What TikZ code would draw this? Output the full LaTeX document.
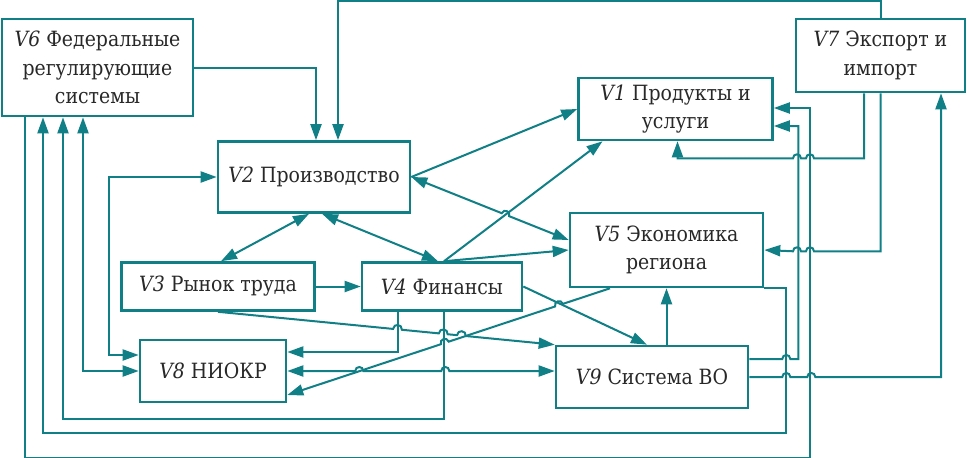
\documentclass[tikz,border=0pt]{standalone}
\usepackage{fontspec}
\setmainfont{DejaVu Serif Condensed}
\usetikzlibrary{arrows.meta,calc}
\definecolor{vline}{RGB}{16,127,134}
\definecolor{vtext}{RGB}{40,40,40}

\begin{document}
\begin{tikzpicture}[x=1pt,y=-1pt,
    box/.style={draw=vline, line width=2.6pt, fill=white, text=vtext, align=center, inner sep=0pt, font=\fontsize{21}{28.5}\selectfont},
    arr/.style={draw=vline, line width=2pt, -{Triangle[length=16pt,width=11pt]}},
    arr2/.style={draw=vline, line width=2pt, {Triangle[length=16pt,width=11pt]}-{Triangle[length=16pt,width=11pt]}},
    hop/.style={bend left=90, looseness=1.7},
    hopr/.style={bend right=90, looseness=1.7}]
  \useasboundingbox (0,0) rectangle (967,458);

  % blocks
  \node[box, minimum width=191pt, minimum height=97pt] (v6) at (97.5,67.5) {\textit{V6} Федеральные\\регулирующие\\системы};
  \node[box, minimum width=192pt, minimum height=71pt] (v2) at (314,177) {\textit{V2} Производство};
  \node[box, minimum width=194pt, minimum height=62pt] (v1) at (675.5,109) {\textit{V1} Продукты и\\услуги};
  \node[box, minimum width=169pt, minimum height=73pt] (v7) at (880.5,55.5) {\textit{V7} Экспорт и\\импорт};
  \node[box, minimum width=193pt, minimum height=74pt] (v5) at (666.5,250) {\textit{V5} Экономика\\региона};
  \node[box, minimum width=193pt, minimum height=48pt] (v3) at (218,286.5) {\textit{V3} Рынок труда};
  \node[box, minimum width=160pt, minimum height=48pt] (v4) at (442,286.5) {\textit{V4} Финансы};
  \node[box, minimum width=146pt, minimum height=62pt] (v8) at (213,371) {\textit{V8} НИОКР};
  \node[box, minimum width=192pt, minimum height=62pt] (v9) at (652,377) {\textit{V9} Система ВО};

  \coordinate (v5a) at ([yshift=10pt]v5.west);
  \coordinate (v4n) at ([xshift=2pt]v4.north);
  \coordinate (v5s) at ([xshift=-56.5pt]v5.south);
  \coordinate (v8r) at ([yshift=-24pt]v8.east);

  % links
  \draw[arr] (v6.east) -| ([xshift=2pt]v2.north);
  \draw[arr] (v7.north) -- ++(0,-17) -| ([xshift=24pt]v2.north);
  \draw[arr] (v2.east) -- (v1.west);
  \draw[arr2] (v2.east) -- ($(v2.east)!0.575!(v5a)$) to[hop] ($(v2.east)!0.621!(v5a)$) -- (v5a);
  \draw[arr] (v4n) -- ([xshift=-73pt]v1.south);
  \draw[arr] (v4n) -- (v5.west);
  \draw[arr2] ([xshift=-5pt]v2.south) -- ([xshift=3pt]v3.north);
  \draw[arr2] ([xshift=8pt]v2.south) -- ([xshift=-4pt]v4.north);
  \draw[arr] (v3.east) -- (v4.west);
  \draw[arr] (v3.south) -- ($(v3.south)!0.520!(v9.north west)$) to[hop] ($(v3.south)!0.546!(v9.north west)$)
    -- ($(v3.south)!0.656!(v9.north west)$) to[hop] ($(v3.south)!0.682!(v9.north west)$)
    -- ($(v3.south)!0.710!(v9.north west)$) to[hop] ($(v3.south)!0.736!(v9.north west)$) -- (v9.north west);
  \draw[arr] (v4.east) -- ([xshift=-5pt]v9.north);
  \draw[arr] ([xshift=-44pt]v4.south) |- ([yshift=19pt]v8.east);
  \draw[arr] ([xshift=2pt]v4.south) -- ++(0,107) -| ([xshift=-34.5pt]v6.south);
  \draw[arr] (v5.south east) -- ++(22,0) -- ++(0,145) -| ([xshift=-54.5pt]v6.south);
  \draw[arr] ([xshift=-72.5pt]v6.south) -- ++(0,341) -- ++(785,0) |- ([yshift=1pt]v1.east);
  \draw[arr] ([yshift=18pt]v9.east) -- ++(33,0) to[hop] ++(8,0) -- ++(8,0) |- ([yshift=-17pt]v1.east);
  \draw[arr] (v9.east) -- ++(33,0) to[hop] ++(8,0) -- ++(17,0) to[hop] ++(8,0) -| ([xshift=60.5pt]v7.south);
  \draw[arr] ([xshift=-16.5pt]v7.south) -- ++(0,65) -- ++(-50,0) to[hopr] ++(-8,0) -- ++(-5,0) to[hopr] ++(-8,0) -| ([xshift=2pt]v1.south);
  \draw[arr] (v7.south) -- ++(0,158) -- ++(-66.5,0) to[hopr] ++(-8,0) -- ++(-5,0) to[hopr] ++(-8,0) -- (v5.east);
  \draw[arr] (v5.south |- v9.north) -- (v5.south);
  \draw[arr2] (v8.east) -- ++(68,0) to[hop] ++(8,0) -- ++(78,0) to[hop] ++(8,0) -- (v9.west |- v8.east);
  \draw[arr2] (v2.west) -- ++(-108,0) |- ([yshift=16pt]v8.west);
  \draw[arr2] ([xshift=-14.5pt]v6.south) |- (v8.west);
  \draw[arr] (v5s) -- ($(v5s)!0.146!(v8r)$) to[hopr] ($(v5s)!0.170!(v8r)$)
    -- ($(v5s)!0.500!(v8r)$) to[hopr] ($(v5s)!0.524!(v8r)$) -- (v8r);
\end{tikzpicture}
\end{document}
